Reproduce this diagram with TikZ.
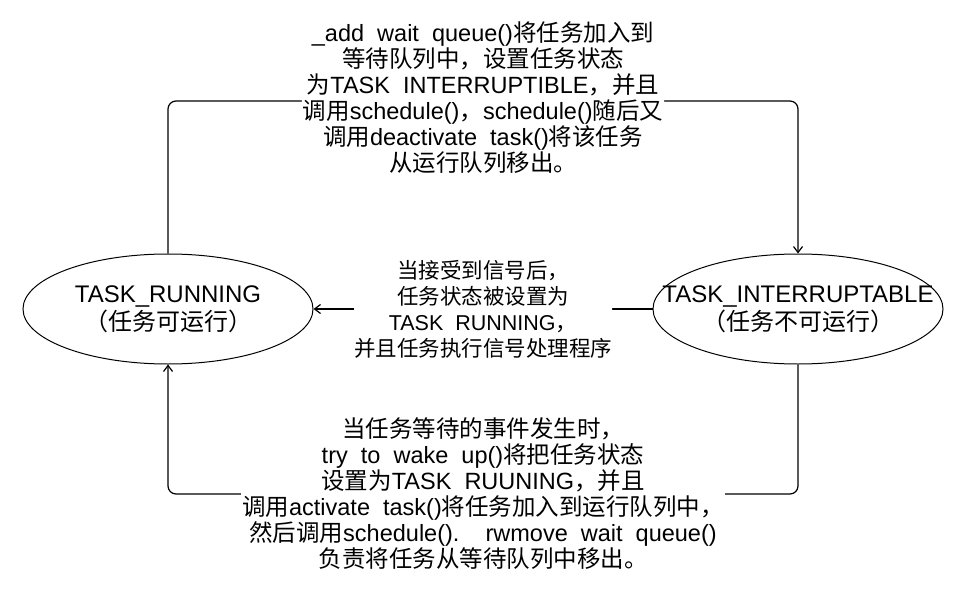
\documentclass[tikz,border=0pt]{standalone}
\usepackage{fontspec}
\setmainfont{Liberation Sans}
\newfontfamily\zhfont{Noto Sans CJK SC}
\newcommand{\zh}[1]{{\zhfont #1}}
\usetikzlibrary{arrows.meta,shapes.geometric}

\begin{document}
\begin{tikzpicture}[x=1pt, y=-1pt,
  state/.style={draw, ellipse, line width=1pt, minimum width=290pt, minimum height=110pt, inner xsep=-40pt, inner ysep=0pt, align=center, font=\fontsize{24}{28}\selectfont},
  note/.style={fill=white, align=center, inner sep=1pt, font=\fontsize{23.5}{26}\selectfont},
  arrow/.style={-{Straight Barb[length=6pt,width=9pt]}, line width=1.2pt, rounded corners=8pt}
]
\useasboundingbox (0,0) rectangle (963,596);
\node[state] (run) at (168,309) {TASK\_RUNNING\\\zh{（任务可运行）}};
\node[state] (intr) at (798,309) {TASK\_INTERRUPTABLE\\\zh{（任务不可运行）}};
\coordinate (tl) at (168,101);
\coordinate (tr) at (798,101);
\coordinate (bl) at (168,494);
\coordinate (br) at (798,494);
% sleep: running -> interruptible
\draw[arrow] (run.north) -- (tl) -- node[note, yshift=3pt] (sleeplbl) {\_add\ \ wait\ \ queue()\zh{将任务加入到}\\
  \zh{等待队列中，设置任务状态}\\
  \zh{为}TASK\ \ INTERRUPTIBLE\zh{，并且}\\
  \zh{调用}schedule()\zh{，}schedule()\zh{随后又}\\
  \zh{调用}deactivate\ \ task()\zh{将该任务}\\
  \zh{从运行队列移出。}} (tr) -- (intr.north);
% signal
\draw[arrow] (intr.west) -- node[note, inner sep=0pt, font=\fontsize{21.5}{26}\selectfont] (siglbl) {\zh{当接受到信号后，}\\
  \zh{任务状态被设置为}\\
  TASK\ \ RUNNING\zh{，}\\
  \zh{并且任务执行信号处理程序}} (run.east);
% wake up
\draw[arrow] (intr.south) -- (br) -- node[note] (wakelbl) {\zh{当任务等待的事件发生时，}\\
  try\ \ to\ \ wake\ \ up()\zh{将把任务状态}\\
  \zh{设置为}TASK\ \ RUUNING\zh{，并且}\\
  \zh{调用}activate\ \ task()\zh{将任务加入到运行队列中，}\\
  \zh{然后调用}schedule().\ \ \ \ rwmove\ \ wait\ \ queue()\\
  \zh{负责将任务从等待队列中移出。}} (bl) -- (run.south);
\end{tikzpicture}
\end{document}
